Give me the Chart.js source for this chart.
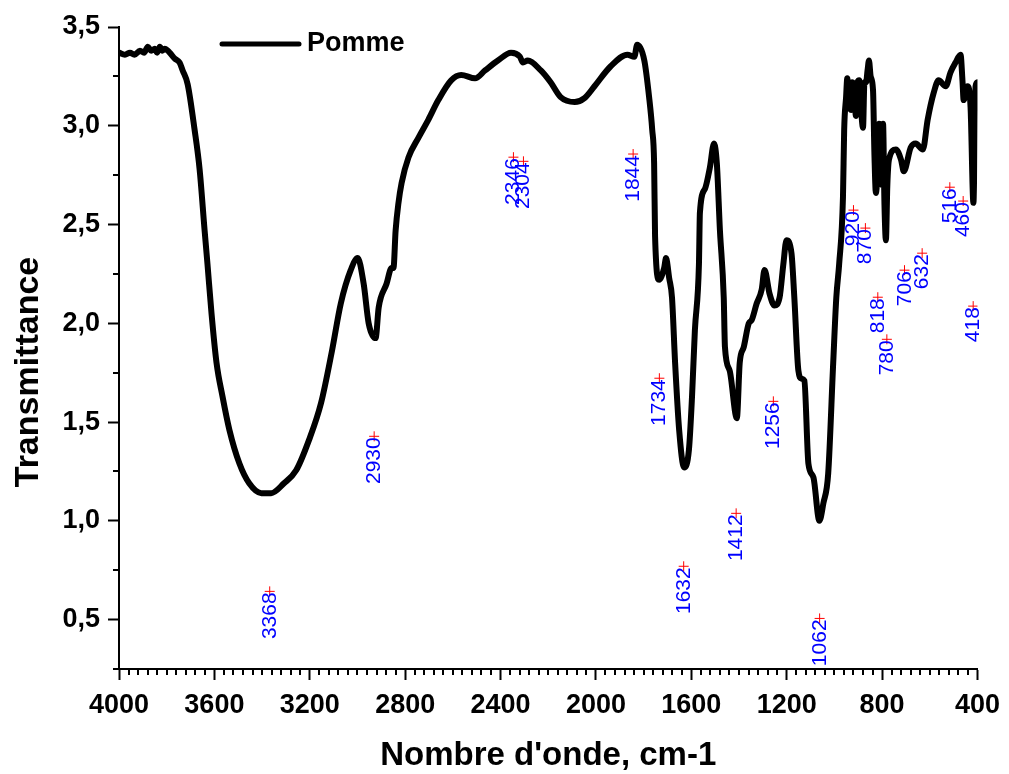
<!DOCTYPE html>
<html>
<head>
<meta charset="utf-8">
<script src="https://cdn.jsdelivr.net/npm/chart.js@4.4.1/dist/chart.umd.min.js"></script>
<style>
  html, body { margin: 0; padding: 0; background: #ffffff; }
  #wrap { width: 1009px; height: 774px; }
</style>
</head>
<body>
<div id="wrap"><canvas id="c" width="1009" height="774"></canvas></div>
<script>
// ---- data ----
const seriesName = 'Pomme';
const wavenumber = [4000,3975,3954,3935,3912,3895,3879,3865,3850,3840,3829,3818,3808,3795,3787,3766,3746,3733,3712,3683,3662,3641,3629,3612,3591,3566,3537,3495,3454,3403,3362,3308,3257,3203,3153,3107,3070,3028,2999,2974,2953,2924,2911,2878,2857,2849,2840,2828,2815,2786,2744,2703,2661,2607,2565,2507,2465,2411,2356,2319,2306,2286,2231,2190,2148,2089,2048,2006,1939,1868,1839,1827,1797,1777,1764,1756,1752,1735,1714,1706,1693,1681,1668,1651,1630,1610,1597,1585,1568,1564,1543,1522,1505,1493,1480,1464,1459,1439,1409,1397,1380,1359,1347,1326,1305,1293,1272,1251,1230,1214,1201,1180,1168,1151,1138,1126,1109,1088,1063,1046,1026,1005,992,980,964,959,951,946,938,930,925,917,910,903,896,888,880,874,867,861,855,848,838,832,826,820,813,805,800,796,790,784,778,771,742,721,709,680,659,629,609,584,563,533,513,492,471,463,458,442,429,417,408,400];
const transmittance = [3.37,3.36,3.37,3.36,3.38,3.37,3.40,3.38,3.39,3.37,3.40,3.38,3.39,3.38,3.37,3.34,3.32,3.28,3.21,2.98,2.78,2.47,2.30,2.05,1.80,1.63,1.46,1.29,1.19,1.14,1.14,1.19,1.256,1.41,1.595,1.86,2.10,2.27,2.33,2.20,2.00,1.925,2.08,2.20,2.28,2.28,2.47,2.61,2.71,2.84,2.94,3.03,3.13,3.23,3.257,3.24,3.28,3.33,3.37,3.35,3.32,3.33,3.28,3.22,3.145,3.12,3.14,3.20,3.30,3.36,3.35,3.41,3.33,3.145,2.98,2.81,2.44,2.22,2.28,2.33,2.23,2.13,1.80,1.46,1.27,1.36,1.63,1.965,2.30,2.56,2.68,2.79,2.91,2.81,2.47,2.13,1.88,1.76,1.52,1.80,1.88,2.00,2.016,2.10,2.17,2.27,2.15,2.09,2.13,2.30,2.42,2.355,2.13,1.76,1.72,1.71,1.29,1.22,1.00,1.09,1.24,1.80,2.13,2.30,2.64,2.98,3.145,3.24,3.10,3.08,3.22,3.20,3.05,3.22,3.23,3.08,2.99,3.22,3.22,3.28,3.33,3.25,3.18,2.85,2.66,2.75,3.01,3.00,2.70,3.01,2.60,2.42,2.70,2.83,2.88,2.83,2.77,2.89,2.91,2.88,3.03,3.165,3.23,3.20,3.27,3.32,3.36,3.23,3.13,3.20,3.095,2.61,3.20,3.22];

const peakLabels = ['3368','2930','2346','2304','1844','1734','1632','1412','1256','1062','920','870','818','780','706','632','516','460','418'];
const peakWavenumber = [3368,2930,2346,2304,1844,1734,1632,1412,1256,1062,920,870,818,780,706,632,516,460,418];
const peakMarkerY = [0.643,1.428,2.841,2.82,2.857,1.722,0.77,1.038,1.605,0.506,2.573,2.482,2.132,1.919,2.269,2.355,2.689,2.619,2.087];

const xTickValues = [4000,3600,3200,2800,2400,2000,1600,1200,800,400];
const yTickValues = [0.5,1.0,1.5,2.0,2.5,3.0,3.5];
const xMinorStep = 40;
const yMinorStep = 0.25;
const xTitle = "Nombre d'onde, cm-1";
const yTitle = 'Transmittance';

const FONT = "'Liberation Sans', Arial, sans-serif";

// ---- plugins ----
const minorTicks = {
  id: 'minorTicks',
  afterDraw(chart) {
    const ctx = chart.ctx, xs = chart.scales.x, ys = chart.scales.y;
    ctx.save();
    ctx.strokeStyle = '#000';
    ctx.lineWidth = 2;
    ctx.beginPath();
    for (let v = xs.min; v <= xs.max + 1e-6; v += xMinorStep) {
      if (xTickValues.includes(Math.round(v))) continue;
      const px = Math.round(xs.getPixelForValue(v));
      ctx.moveTo(px, xs.top); ctx.lineTo(px, xs.top + 6);
    }
    for (let v = ys.min; v <= ys.max + 1e-6; v += yMinorStep) {
      if (yTickValues.some(t => Math.abs(t - v) < 1e-6)) continue;
      const py = Math.round(ys.getPixelForValue(v));
      ctx.moveTo(ys.right, py); ctx.lineTo(ys.right - 6, py);
    }
    ctx.stroke();
    ctx.restore();
  }
};

const peakText = {
  id: 'peakText',
  afterDatasetsDraw(chart) {
    const ctx = chart.ctx, xs = chart.scales.x, ys = chart.scales.y;
    ctx.save();
    ctx.fillStyle = '#0000ff';
    ctx.font = '21px ' + FONT;
    ctx.textAlign = 'right';
    ctx.textBaseline = 'alphabetic';
    peakLabels.forEach((t, i) => {
      const px = xs.getPixelForValue(peakWavenumber[i]);
      const py = ys.getPixelForValue(peakMarkerY[i]);
      ctx.save();
      ctx.translate(px + 6, py + 1);
      ctx.rotate(-Math.PI / 2);
      ctx.fillText(t, 0, 0);
      ctx.restore();
    });
    ctx.restore();
  }
};

const extraText = {
  id: 'extraText',
  afterDraw(chart) {
    const ctx = chart.ctx;
    ctx.save();
    ctx.fillStyle = '#000';
    ctx.font = 'bold 34px ' + FONT;
    ctx.textAlign = 'center';
    ctx.textBaseline = 'middle';
    ctx.translate(29, 372);
    ctx.rotate(-Math.PI / 2);
    ctx.fillText(yTitle, 0, 0);
    ctx.restore();
    ctx.save();
    const ly = 44;
    ctx.strokeStyle = '#000';
    ctx.lineWidth = 5;
    ctx.lineCap = 'round';
    ctx.beginPath();
    ctx.moveTo(222, ly); ctx.lineTo(299, ly);
    ctx.stroke();
    ctx.fillStyle = '#000';
    ctx.font = 'bold 27px ' + FONT;
    ctx.textAlign = 'left';
    ctx.textBaseline = 'middle';
    ctx.fillText(seriesName, 307, ly);
    ctx.restore();
  }
};

const spectrum = wavenumber.map((w, i) => ({ x: w, y: transmittance[i] }));
const peakPts = peakWavenumber.map((w, i) => ({ x: w, y: peakMarkerY[i] }));

new Chart(document.getElementById('c'), {
  type: 'line',
  data: {
    datasets: [
      {
        label: 'peaks',
        data: peakPts,
        showLine: false,
        pointStyle: 'cross',
        pointRadius: 5,
        pointBorderColor: '#ff0000',
        pointBorderWidth: 1,
        pointBackgroundColor: '#ff0000',
        order: 0
      },
      {
        label: seriesName,
        data: spectrum,
        borderColor: '#000000',
        borderWidth: 6,
        pointRadius: 0,
        fill: false,
        cubicInterpolationMode: 'monotone',
        borderJoinStyle: 'round',
        borderCapStyle: 'round',
        order: 1
      }
    ]
  },
  options: {
    responsive: false,
    animation: false,
    devicePixelRatio: 1,
    layout: { padding: { top: 27, right: 27, left: 0, bottom: 0 } },
    plugins: { legend: { display: false }, tooltip: { enabled: false } },
    scales: {
      x: {
        type: 'linear',
        reverse: true,
        min: 400,
        max: 4000,
        afterBuildTicks(scale) { scale.ticks = xTickValues.map(v => ({ value: v })); },
        afterFit(scale) { scale.height = 105; },
        border: { display: true, color: '#000', width: 2 },
        grid: { drawOnChartArea: false, drawTicks: true, tickLength: 11, tickWidth: 2, tickColor: '#000', color: '#000' },
        ticks: {
          color: '#000',
          padding: 9,
          maxRotation: 0,
          font: { family: FONT, size: 27, weight: 'bold' },
          callback: v => String(v)
        },
        title: {
          display: true,
          text: xTitle,
          color: '#000',
          font: { family: FONT, size: 33, weight: 'bold', lineHeight: 1.0 },
          padding: { top: 0, bottom: 2 }
        }
      },
      y: {
        type: 'linear',
        min: 0.25,
        max: 3.5,
        afterBuildTicks(scale) { scale.ticks = yTickValues.map(v => ({ value: v })); },
        afterFit(scale) { scale.width = 119; },
        border: { display: true, color: '#000', width: 2 },
        grid: { drawOnChartArea: false, drawTicks: true, tickLength: 11, tickWidth: 2, tickColor: '#000', color: '#000' },
        ticks: {
          color: '#000',
          padding: 8,
          font: { family: FONT, size: 27, weight: 'bold' },
          callback: v => Number(v).toFixed(1).replace('.', ',')
        }
      }
    }
  },
  plugins: [minorTicks, peakText, extraText]
});
</script>
</body>
</html>
